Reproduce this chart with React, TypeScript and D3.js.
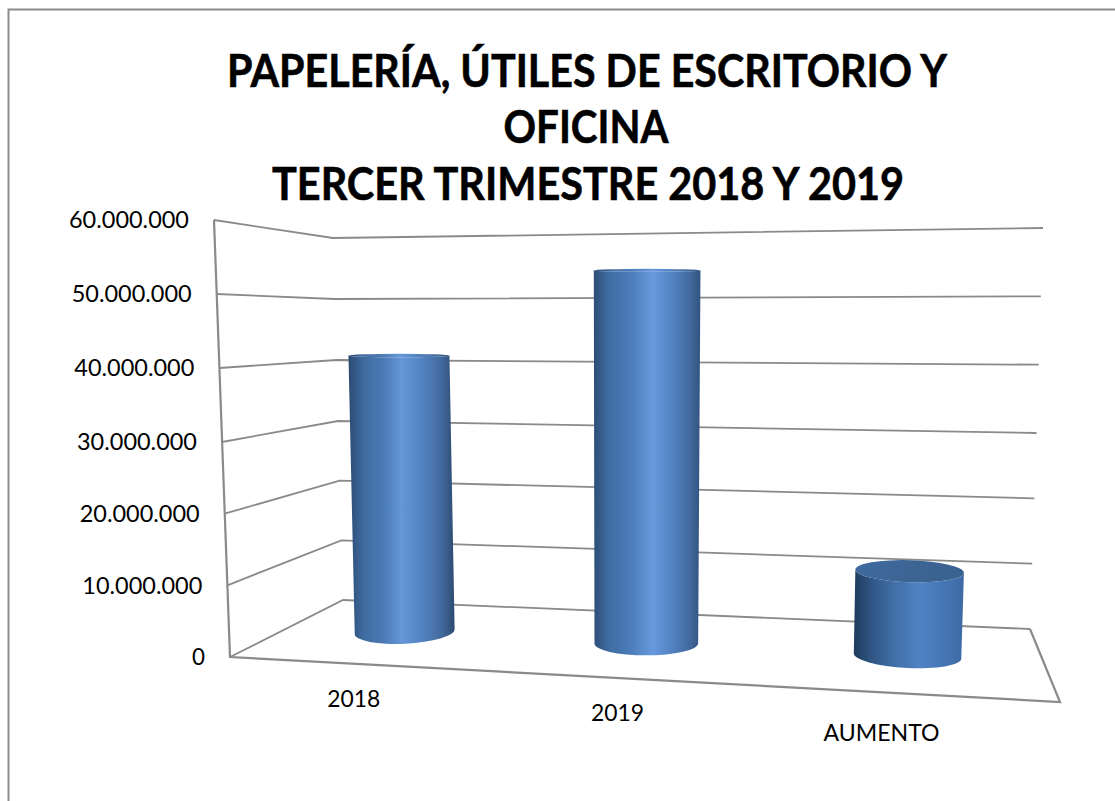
import React from "react";
import * as d3 from "d3";

const categories = ["2018", "2019", "AUMENTO"];
const values = [41000000, 52400000, 11400000];
const tickValues = [0, 10000000, 20000000, 30000000, 40000000, 50000000, 60000000];
const tickLabels = ["0", "10.000.000", "20.000.000", "30.000.000", "40.000.000", "50.000.000", "60.000.000"];
const titleLines = ["PAPELERÍA, ÚTILES DE ESCRITORIO Y", "OFICINA", "TERCER TRIMESTRE 2018 Y 2019"];

const W = 1115, H = 801;
const MAX = 60000000;
const FONT = "Lato, Carlito, Calibri, sans-serif";
const GRID = "#8a8a8a";

// Perspective frame: four vertical edges of the 3D box
const flx = d3.scaleLinear().domain([0, MAX]).range([230, 214]);
const fly = d3.scaleLinear().domain([0, MAX / 2, MAX]).range([657, 442, 220]);
const blx = d3.scaleLinear().domain([0, MAX]).range([343, 333]);
const bly = d3.scaleLinear().domain([0, MAX / 2, MAX]).range([600, 421, 238]);
const brx = d3.scaleLinear().domain([0, MAX]).range([1030, 1043]);
const bry = d3.scaleLinear().domain([0, MAX / 2, MAX]).range([629, 433, 228]);
const frx = d3.scaleLinear().domain([0, MAX]).range([1060, 1080]);
const fry = d3.scaleLinear().domain([0, MAX]).range([702, 166]);

function project(v: number, u: number, t: number): [number, number] {
  const lx = flx(v) + (blx(v) - flx(v)) * t;
  const ly = fly(v) + (bly(v) - fly(v)) * t;
  const rx = frx(v) + (brx(v) - frx(v)) * t;
  const ry = fry(v) + (bry(v) - fry(v)) * t;
  return [lx + (rx - lx) * u, ly + (ry - ly) * u];
}

const barU = d3.scaleOrdinal<string, number>().domain(categories).range([0.151, 0.472, 0.819]);
const labelU = d3.scaleOrdinal<string, number>().domain(categories).range([0.149, 0.467, 0.785]);
const labelDrop = d3.scaleOrdinal<string, number>().domain(categories).range([35, 34.5, 40]);
const DEPTH = 0.54;
const rxScale = d3.scaleLinear().domain([0.151, 0.819]).range([50, 53.8]);
const ryScale = d3.scaleLinear().domain([350, 560]).range([1.5, 11]).clamp(true);
const ryBase = 12;
const tiltScale = d3.scaleLinear().domain([406, 906]).range([-2.8, 2.9]);

const sideStops = [
  [["0%", "#2b4a72"], ["14%", "#3f6b9f"], ["32%", "#4a79b3"], ["50%", "#6497d8"], ["68%", "#5484c4"], ["88%", "#42699c"], ["100%", "#2c4a70"]],
  [["0%", "#2d4d76"], ["14%", "#3f6ca2"], ["34%", "#4b7bb8"], ["55%", "#6799dc"], ["72%", "#5484c4"], ["90%", "#42699e"], ["100%", "#315380"]],
  [["0%", "#1f3a5c"], ["16%", "#2f5684"], ["38%", "#4271a9"], ["60%", "#4f82c4"], ["80%", "#4677b5"], ["100%", "#3d6aa4"]],
];

function ends(cx: number, cy: number, rx: number, deg: number) {
  const a = (deg * Math.PI) / 180;
  return {
    l: [cx - rx * Math.cos(a), cy - rx * Math.sin(a)],
    r: [cx + rx * Math.cos(a), cy + rx * Math.sin(a)],
  };
}

function Cylinder({ name, value, i }: { name: string; value: number; i: number }) {
  const u = barU(name);
  const [bx, by] = project(0, u, DEPTH);
  const [tx, ty] = project(value, u, DEPTH);
  const rx = rxScale(u);
  const rxTop = rx + (i === 1 ? 1.5 : 0.5);
  const ryB = ryBase;
  const ryT = ryScale(ty);
  const tiltB = tiltScale(bx);
  const tiltT = i === 2 ? tiltScale(tx) * 0.6 : 0;
  const b = ends(bx, by, rx, tiltB);
  const t = ends(tx, ty, rxTop, tiltT);
  const d =
    `M${t.l[0]},${t.l[1]} L${b.l[0]},${b.l[1]} ` +
    `A${rx},${ryB} ${tiltB} 0 0 ${b.r[0]},${b.r[1]} ` +
    `L${t.r[0]},${t.r[1]} ` +
    `A${rxTop},${ryT} ${tiltT} 0 1 ${t.l[0]},${t.l[1]} Z`;
  return (
    <g>
      <path d={d} fill={`url(#side${i})`} />
      <ellipse
        cx={tx}
        cy={ty}
        rx={rxTop}
        ry={ryT}
        transform={`rotate(${tiltT} ${tx} ${ty})`}
        fill={i === 2 ? "url(#cap)" : `url(#side${i})`}
      />
    </g>
  );
}

export default function App() {
  const line = d3.line();
  return (
    <svg
      width={W}
      height={H}
      viewBox={`0 0 ${W} ${H}`}
      style={{ position: "absolute", left: 0, top: 0, display: "block", background: "#fff" }}
    >
      <defs>
        {sideStops.map((stops, i) => (
          <linearGradient key={i} id={`side${i}`} x1="0" x2="1" y1="0" y2="0">
            {stops.map(([o, c]) => (
              <stop key={o} offset={o} stopColor={c} />
            ))}
          </linearGradient>
        ))}
        <linearGradient id="cap" x1="0" x2="1" y1="0" y2="0">
          <stop offset="0%" stopColor="#3f6a9e" />
          <stop offset="50%" stopColor="#3c6594" />
          <stop offset="100%" stopColor="#3a628f" />
        </linearGradient>
        <filter id="soft" x="0" y="0" width="100%" height="100%" filterUnits="userSpaceOnUse" primitiveUnits="userSpaceOnUse">
          <feGaussianBlur stdDeviation="0.45" />
        </filter>
      </defs>

      <g>
        <path d={`M8.5,${H + 5} V9.5 H${W + 5}`} fill="none" stroke="#8c8c8c" strokeWidth={2} />

        {titleLines.map((s, i) => (
          <text
            key={s}
            x={[587, 586, 588][i]}
            y={[87, 143, 200][i]}
            textAnchor="middle"
            fontFamily={FONT}
            fontWeight={700}
            fontSize={46}
            textLength={[720, 165, 632][i]}
            lengthAdjust="spacingAndGlyphs"
            fill="#000"
            stroke="#000"
            strokeWidth={0.6}
          >
            {s}
          </text>
        ))}

        {tickValues.map((v) => (
          <path
            key={v}
            d={line([
              [flx(v), fly(v)],
              [blx(v), bly(v)],
              [brx(v), bry(v)],
            ]) as string}
            fill="none"
            stroke={GRID}
            strokeWidth={1.8}
          />
        ))}
        <path
          d={line([
            [flx(MAX), fly(MAX)],
            [flx(0), fly(0)],
            [frx(0), fry(0)],
            [brx(0), bry(0)],
          ]) as string}
          fill="none"
          stroke={GRID}
          strokeWidth={2.2}
        />

        {tickValues.map((v, i) => (
          <text
            key={v}
            x={flx(v) - 25}
            y={fly(v)}
            dy="0.35em"
            textAnchor="end"
            fontFamily={FONT}
            fontSize={24}
            textLength={v === 0 ? 13 : 120}
            lengthAdjust="spacingAndGlyphs"
            fill="#000"
          >
            {tickLabels[i]}
          </text>
        ))}

        {categories.map((c, i) => (
          <Cylinder key={c} name={c} value={values[i]} i={i} />
        ))}

        {categories.map((c) => {
          const [x, y] = project(0, labelU(c), 0);
          return (
            <text
              key={c}
              x={x}
              y={y + labelDrop(c)}
              dy="0.35em"
              textAnchor="middle"
              fontFamily={FONT}
              fontSize={24}
              textLength={c === "AUMENTO" ? 116 : 53}
              lengthAdjust="spacingAndGlyphs"
              fill="#000"
            >
              {c}
            </text>
          );
        })}
      </g>
    </svg>
  );
}
